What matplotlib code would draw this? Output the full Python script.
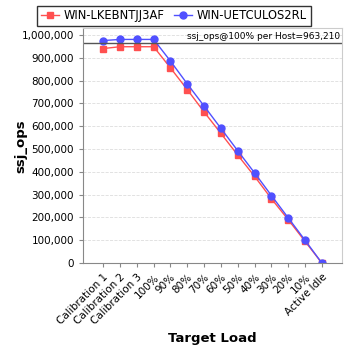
import matplotlib.pyplot as plt
from matplotlib.ticker import FuncFormatter

loads = ["Calibration 1", "Calibration 2", "Calibration 3", "100%", "90%", "80%",
         "70%", "60%", "50%", "40%", "30%", "20%", "10%", "Active Idle"]
host_a = "WIN-LKEBNTJJ3AF"
host_b = "WIN-UETCULOS2RL"
ops_a = [940000, 948000, 948000, 948000, 855000, 760000, 662000, 568000,
         473000, 380000, 282000, 190000, 95000, 0]
ops_b = [975000, 980000, 980000, 980000, 885000, 785000, 688000, 590000,
         492000, 395000, 296000, 198000, 100000, 0]
avg_100 = 963210

fig = plt.figure(figsize=(3.48, 3.48), dpi=100)
ax = fig.add_axes([0.2385, 0.244, 0.7445, 0.6755])

x = range(len(loads))
ax.plot(x, ops_a, color="#ff5050", marker="s", markersize=5, linewidth=1, label=host_a)
ax.plot(x, ops_b, color="#5050ff", marker="o", markersize=5, linewidth=1, label=host_b)
ax.axhline(avg_100, color="#555555", linewidth=1)
ax.text(len(loads) - 1 + 1.1, avg_100 + 12000, "ssj_ops@100% per Host=963,210",
        ha="right", va="bottom", fontsize=6.5)

ax.set_xlim(-1.2, len(loads) - 1 + 1.2)
ax.set_ylim(0, 1030000)
ax.set_yticks(range(0, 1000001, 100000))
ax.yaxis.set_major_formatter(FuncFormatter(lambda v, p: f"{int(v):,}"))
ax.set_xticks(list(x))
ax.set_xticklabels(loads, rotation=45, ha="right", rotation_mode="anchor")
ax.tick_params(labelsize=7.5, length=3, color="#888888")
ax.grid(axis="y", color="#dddddd", linestyle="--", linewidth=0.6)
for s in ax.spines.values():
    s.set_color("#888888")
ax.spines["top"].set_color("#cccccc")
ax.spines["right"].set_color("#cccccc")

ax.set_xlabel("Target Load", fontsize=9.5, fontweight="bold")
fig.text(0.06, 0.58, "ssj_ops", rotation=90, ha="center", va="center",
         fontsize=9.5, fontweight="bold")

fig.legend(loc="upper center", bbox_to_anchor=(0.5, 1.0), ncol=2, fontsize=8.3,
           frameon=True, fancybox=False, edgecolor="black", handlelength=1.6,
           columnspacing=0.8, handletextpad=0.4, borderpad=0.3)

fig.savefig("out.png", dpi=100)
